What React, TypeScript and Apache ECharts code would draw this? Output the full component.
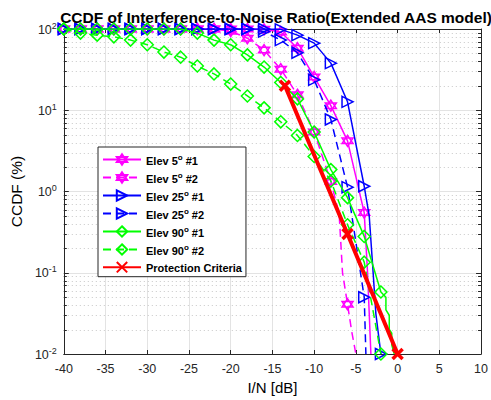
import React, { useEffect, useRef } from "react";
import * as echarts from "echarts";

// ---- data (I/N in dB, CCDF in %) ----
const e5a_x = [-40, -38, -36, -34, -32, -30, -28, -26, -24, -22, -20, -18, -16, -14, -12, -10, -8, -6, -4, -3.6, -3.2];
const e5a_y = [100, 100, 100, 100, 100, 100, 100, 100, 100, 100, 100, 100, 99, 92, 58, 25.7, 11.4, 4.2, 0.55, 0.1, 0.01];

const e5b_x = [-40, -38, -36, -34, -32, -30, -28, -26, -24, -22, -20, -18, -16, -14, -12, -10, -8, -7, -6.6, -6, -5.5, -5];
const e5b_y = [100, 100, 100, 100, 100, 100, 100, 100, 100, 100, 94, 77, 55, 32, 15.5, 5.4, 1.33, 0.52, 0.1, 0.041, 0.019, 0.01];

const e25a_x = [-40, -38, -36, -34, -32, -30, -28, -26, -24, -22, -20, -18, -16, -14, -12, -10, -8, -6, -4, -3.4, -3, -2.6, -2];
const e25a_y = [100, 100, 100, 100, 100, 100, 100, 100, 100, 100, 100, 100, 100, 99, 84, 67, 38, 12.7, 1.16, 0.5, 0.127, 0.031, 0.01];

const e25b_x = [-40, -38, -36, -34, -32, -30, -28, -26, -24, -22, -20, -18, -16, -14, -12, -10, -8, -6, -4, -3.8];
const e25b_y = [100, 100, 100, 100, 100, 100, 100, 100, 100, 100, 100, 100, 93, 73, 51, 23.7, 7.7, 1.13, 0.05, 0.01];

const e90a_x = [-40, -38, -36, -34, -32, -30, -28, -26, -24, -22, -20, -18, -16, -14, -12, -10, -8, -6, -4, -2, -1.4, -1.4, -1.0, -1.0, -0.7, -0.7, -0.4];
const e90a_y = [100, 100, 100, 100, 100, 100, 100, 100, 89, 73, 64, 48, 34, 22, 13.8, 5.4, 1.86, 0.84, 0.28, 0.058, 0.05, 0.035, 0.03, 0.02, 0.018, 0.013, 0.01];

const e90b_x = [-40, -38, -36, -34, -32, -30, -28, -26, -24, -22, -20, -18, -16, -14, -12, -10, -8, -6, -4, -2];
const e90b_y = [100, 89, 84, 80, 73, 64, 52, 45, 35, 28, 21, 15, 10.7, 7.2, 4.9, 2.7, 1.35, 0.39, 0.135, 0.01];

const prot_x = [-13.5, -6, 0];
const prot_y = [20, 0.3, 0.01];

const seriesNames = [
  "Elev 5o #1",
  "Elev 5o #2",
  "Elev 25o #1",
  "Elev 25o #2",
  "Elev 90o #1",
  "Elev 90o #2",
  "Protection Criteria",
];

const xTickMin = -40;
const xTickMax = 10;
const xTickStep = 5;
const yMin = 0.01;
const yMax = 100;

// ---- marker shapes ----
const HEXAGRAM = "path://M5,0 L9.33,7.5 L0.67,7.5 Z M5,10 L0.67,2.5 L9.33,2.5 Z";
const TRI_RIGHT = "path://M0,0 L10,5 L0,10 Z";
const DIAMOND = "path://M5,0 L10,5 L5,10 L0,5 Z";
const XMARK = "path://M0,0 L10,10 M10,0 L0,10";

const FONT = "'Liberation Sans', Arial, sans-serif";
const DASH = [8, 5];

function mkSeries(
  name: string,
  xs: number[],
  ys: number[],
  color: string,
  symbol: string,
  dashed: boolean,
  opts: any = {}
) {
  const everyPoint = opts.everyPoint || false;
  return {
    name,
    type: "line",
    data: xs.map((x, i) => {
      const isMarker = everyPoint || (Number.isInteger(x) && x % 2 === 0);
      return isMarker ? { value: [x, ys[i]] } : { value: [x, ys[i]], symbol: "none" };
    }),
    symbol,
    symbolSize: opts.symbolSize || 11,
    showSymbol: true,
    showAllSymbol: true,
    color,
    lineStyle: { color, width: opts.width || 1.5, type: dashed ? DASH : "solid" },
    itemStyle: {
      color: "rgba(255,255,255,0)",
      borderColor: color,
      borderWidth: opts.borderWidth || 1.5,
    },
    emphasis: { disabled: true },
    z: opts.z || 3,
  };
}

function minorValues() {
  const out: number[][] = [];
  for (let k = -2; k <= 1; k++) {
    for (let m = 2; m <= 9; m++) out.push([xTickMin, m * Math.pow(10, k)]);
  }
  return out;
}

export default function App() {
  const ref = useRef<HTMLDivElement>(null);

  useEffect(() => {
    if (!ref.current) return;
    const chart = echarts.init(ref.current, null, { renderer: "svg" });

    const legendRich = {
      t: { fontFamily: FONT, fontSize: 11, fontWeight: "bold", color: "#000", verticalAlign: "bottom", lineHeight: 13 },
      s: { fontFamily: FONT, fontSize: 8, fontWeight: "bold", color: "#000", verticalAlign: "bottom", lineHeight: 8, padding: [0, 0, 5, 0] },
    };
    const legendFormatter = (name: string) => {
      const m = name.match(/^(Elev \d+)o( #\d)$/);
      if (m) return `{t|${m[1]}}{s|o}{t|${m[2]}}`;
      return `{t|${name}}`;
    };

    const axisLineStyle = { show: true, onZero: false, lineStyle: { color: "#262626", width: 1 } };

    const option: any = {
      animation: false,
      backgroundColor: "#fff",
      title: {
        text: "CCDF of Interference-to-Noise Ratio(Extended AAS model)",
        left: 271,
        textAlign: "center",
        top: 4,
        textStyle: { fontFamily: FONT, fontSize: 15.5, fontWeight: "bold", color: "#000" },
      },
      grid: { left: 61, right: 7, top: 29, bottom: 45, containLabel: false },
      legend: {
        data: seriesNames,
        orient: "vertical",
        left: 98,
        top: 147,
        itemWidth: 38,
        itemHeight: 13,
        itemGap: 5,
        padding: [6, 4, 3, 4],
        backgroundColor: "#fff",
        borderColor: "#262626",
        borderWidth: 1,
        borderRadius: 0,
        selectedMode: false,
        formatter: legendFormatter,
        textStyle: { rich: legendRich },
      },
      xAxis: [
        {
          type: "value",
          min: xTickMin,
          max: xTickMax,
          interval: xTickStep,
          name: "I/N [dB]",
          nameLocation: "middle",
          nameGap: 26,
          nameTextStyle: { fontFamily: FONT, fontSize: 15, color: "#000" },
          axisLine: axisLineStyle,
          axisTick: { show: true, inside: true, length: 4, lineStyle: { color: "#262626" } },
          axisLabel: { fontFamily: FONT, fontSize: 12.5, color: "#262626", margin: 8 },
          splitLine: { show: true, lineStyle: { color: "#e3e3e3", width: 1 } },
        },
        {
          type: "value",
          position: "top",
          min: xTickMin,
          max: xTickMax,
          interval: xTickStep,
          axisLine: axisLineStyle,
          axisTick: { show: true, inside: true, length: 4, lineStyle: { color: "#262626" } },
          axisLabel: { show: false },
          splitLine: { show: false },
        },
      ],
      yAxis: [
        {
          type: "log",
          logBase: 10,
          min: yMin,
          max: yMax,
          name: "CCDF (%)",
          nameLocation: "middle",
          nameGap: 35,
          nameTextStyle: { fontFamily: FONT, fontSize: 15.5, color: "#000" },
          axisLine: axisLineStyle,
          axisTick: { show: true, inside: true, length: 5, lineStyle: { color: "#262626" } },
          axisLabel: {
            margin: 7,
            formatter: (v: number) => {
              const e = Math.round(Math.log10(v));
              return `{b|10}{s|${e}}`;
            },
            rich: {
              b: { fontFamily: FONT, fontSize: 12.5, color: "#262626", verticalAlign: "bottom", lineHeight: 14 },
              s: { fontFamily: FONT, fontSize: 9, color: "#262626", verticalAlign: "bottom", lineHeight: 14, padding: [0, 0, 6, 0] },
            },
          },
          splitLine: { show: true, lineStyle: { color: "#e3e3e3", width: 1 } },
        },
        {
          type: "log",
          logBase: 10,
          min: yMin,
          max: yMax,
          position: "right",
          axisLine: axisLineStyle,
          axisTick: { show: true, inside: true, length: 5, lineStyle: { color: "#262626" } },
          axisLabel: { show: false },
          splitLine: { show: false },
        },
      ],
      series: [
        {
          name: "minor",
          type: "custom",
          silent: true,
          z: 1,
          data: minorValues(),
          encode: { x: 0, y: 1 },
          renderItem: (params: any, api: any) => {
            const v = api.value(1);
            const p = api.coord([xTickMin, v]);
            const cs = params.coordSys;
            const y = Math.round(p[1]) + 0.5;
            return {
              type: "group",
              children: [
                {
                  type: "line",
                  shape: { x1: cs.x, y1: y, x2: cs.x + cs.width, y2: y },
                  style: { stroke: "#c8c8c8", lineWidth: 1, lineDash: [1, 3] },
                },
                {
                  type: "line",
                  shape: { x1: cs.x, y1: y, x2: cs.x + 3, y2: y },
                  style: { stroke: "#262626", lineWidth: 1 },
                },
                {
                  type: "line",
                  shape: { x1: cs.x + cs.width - 3, y1: y, x2: cs.x + cs.width, y2: y },
                  style: { stroke: "#262626", lineWidth: 1 },
                },
              ],
            };
          },
        },
        mkSeries(seriesNames[0], e5a_x, e5a_y, "#ff00ff", HEXAGRAM, false, { z: 4 }),
        mkSeries(seriesNames[1], e5b_x, e5b_y, "#ff00ff", HEXAGRAM, true, { z: 4 }),
        mkSeries(seriesNames[2], e25a_x, e25a_y, "#0000ff", TRI_RIGHT, false, { z: 5 }),
        mkSeries(seriesNames[3], e25b_x, e25b_y, "#0000ff", TRI_RIGHT, true, { z: 5 }),
        mkSeries(seriesNames[4], e90a_x, e90a_y, "#00ff00", DIAMOND, false, { z: 6, symbolSize: 12 }),
        mkSeries(seriesNames[5], e90b_x, e90b_y, "#00ff00", DIAMOND, true, { z: 6, symbolSize: 12 }),
        mkSeries(seriesNames[6], prot_x, prot_y, "#ff0000", XMARK, false, {
          z: 7,
          everyPoint: true,
          width: 4,
          borderWidth: 3.5,
          symbolSize: 10,
        }),
      ],
    };

    chart.setOption(option);
    return () => chart.dispose();
  }, []);

  return (
    <div
      ref={ref}
      style={{ position: "fixed", left: 0, top: 0, width: 491, height: 400, background: "#fff" }}
    />
  );
}
